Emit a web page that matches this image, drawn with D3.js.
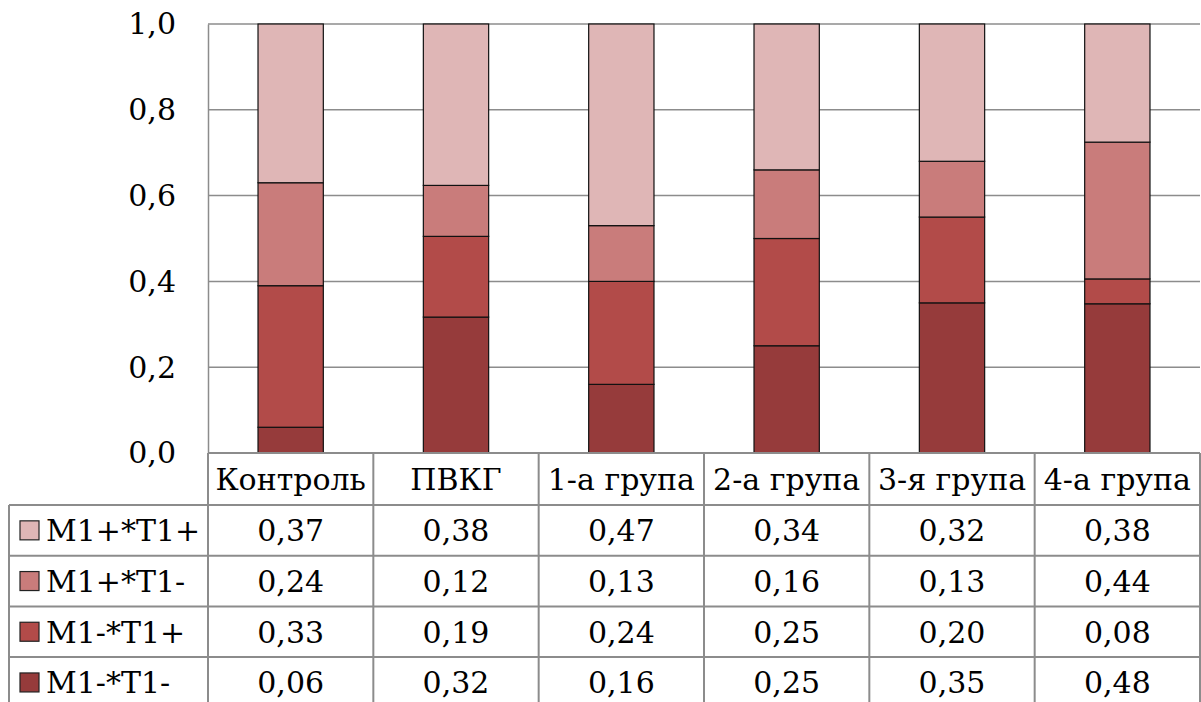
<!DOCTYPE html>
<html>
<head>
<meta charset="utf-8">
<script src="https://cdn.jsdelivr.net/npm/d3@7"></script>
<style>
  html, body { margin: 0; padding: 0; background: #fff; }
  svg { display: block; }
</style>
</head>
<body>
<svg id="chart" width="1201" height="702"></svg>
<script>
// Groups (columns of the data table)
const categories = ["Контроль", "ПВКГ", "1-а група", "2-а група", "3-я група", "4-а група"];

// Series, in table row order (top to bottom)
const seriesNames = ["M1+*T1+", "M1+*T1-", "M1-*T1+", "M1-*T1-"];

// Shares per group for each series
const m1pT1p = [0.37, 0.38, 0.47, 0.34, 0.32, 0.38];
const m1pT1m = [0.24, 0.12, 0.13, 0.16, 0.13, 0.44];
const m1mT1p = [0.33, 0.19, 0.24, 0.25, 0.20, 0.08];
const m1mT1m = [0.06, 0.32, 0.16, 0.25, 0.35, 0.48];

const yTicks = [0, 0.2, 0.4, 0.6, 0.8, 1.0];

const seriesValues = [m1pT1p, m1pT1m, m1mT1p, m1mT1m];
const colors = ["#dfb6b6", "#c97c7b", "#b24b49", "#963b3b"];

// Rows keyed by category for d3.stack
const rows = categories.map((c, i) => {
  const r = { category: c };
  seriesNames.forEach((s, k) => { r[s] = seriesValues[k][i]; });
  return r;
});

// Bottom of each stack is the last table row; each column is scaled to 100 %
const stackKeys = seriesNames.slice().reverse();
const stacked = d3.stack().keys(stackKeys).offset(d3.stackOffsetExpand)(rows);
const color = d3.scaleOrdinal().domain(seriesNames).range(colors);

const locale = d3.formatLocale({ decimal: ",", thousands: " ", grouping: [3], currency: ["", ""] });
const fmtAxis = locale.format(".1f");
const fmtCell = locale.format(".2f");

const fontStack = "'DejaVu Serif', serif";

const svg = d3.select("#chart");
svg.append("rect").attr("width", 1201).attr("height", 702).attr("fill", "#fff");

const plotLeft = 208, plotRight = 1200, plotTop = 24, plotBottom = 453;
const tableLeft = 9;
const headerBottom = 505;
const rowH = 50.7;
const fontSize = 30;

const xCol = d3.scaleBand().domain(categories).range([plotLeft, plotRight]).padding(0);
const xBar = d3.scaleBand().domain(categories).range([plotLeft, plotRight])
  .paddingInner(0.605).paddingOuter(0.3025);
const y = d3.scaleLinear().domain([0, 1]).range([plotBottom, plotTop]);

// Horizontal gridlines
svg.append("g").selectAll("line").data(yTicks.slice(1)).join("line")
  .attr("x1", plotLeft).attr("x2", plotRight)
  .attr("y1", d => y(d)).attr("y2", d => y(d))
  .attr("stroke", "#8c8c8c").attr("stroke-width", 1.5);

// Y axis with comma decimals
const yAxis = svg.append("g")
  .attr("transform", `translate(${plotLeft},0)`)
  .call(d3.axisLeft(y).tickValues(yTicks).tickFormat(fmtAxis).tickSize(0).tickPadding(32));
yAxis.attr("font-family", fontStack);
yAxis.select(".domain").attr("stroke", "#8c8c8c").attr("stroke-width", 1.5);
yAxis.selectAll("text")
  .attr("font-size", fontSize)
  .attr("fill", "#000")
  .attr("dy", "0.33em");

// Stacked bars
svg.append("g").selectAll("g").data(stacked).join("g")
  .attr("fill", d => color(d.key))
  .selectAll("rect").data(d => d).join("rect")
  .attr("x", d => xBar(d.data.category))
  .attr("width", xBar.bandwidth())
  .attr("y", d => y(d[1]))
  .attr("height", d => y(d[0]) - y(d[1]))
  .attr("stroke", "#111").attr("stroke-width", 1.2);

// Data table
const table = svg.append("g").attr("font-family", fontStack);
const gridColor = "#8c8c8c";
const tableBottom = 702;

// Horizontal table lines
table.append("line").attr("x1", plotLeft).attr("x2", plotRight)
  .attr("y1", plotBottom).attr("y2", plotBottom)
  .attr("stroke", gridColor).attr("stroke-width", 2);
const rowLines = seriesNames.map((s, i) => headerBottom + i * rowH);
table.selectAll(".hline").data(rowLines).join("line")
  .attr("x1", tableLeft).attr("x2", plotRight)
  .attr("y1", d => d).attr("y2", d => d)
  .attr("stroke", gridColor).attr("stroke-width", 2);

// Vertical table lines
table.append("line").attr("x1", tableLeft).attr("x2", tableLeft)
  .attr("y1", headerBottom).attr("y2", tableBottom)
  .attr("stroke", gridColor).attr("stroke-width", 2);
const colEdges = [plotLeft].concat(categories.map(c => xCol(c) + xCol.bandwidth()));
table.selectAll(".vline").data(colEdges).join("line")
  .attr("x1", d => d).attr("x2", d => d)
  .attr("y1", plotBottom).attr("y2", tableBottom)
  .attr("stroke", gridColor).attr("stroke-width", 2);

// Column headers
table.selectAll(".head").data(categories).join("text")
  .attr("x", d => xCol(d) + xCol.bandwidth() / 2)
  .attr("y", (plotBottom + headerBottom) / 2)
  .attr("dy", "0.36em")
  .attr("text-anchor", "middle")
  .attr("font-size", fontSize)
  .text(d => d);

// Rows: legend key, series name and values
seriesNames.forEach((s, i) => {
  const cy = headerBottom + i * rowH + rowH / 2;
  table.append("rect")
    .attr("x", 20).attr("y", cy - 9.5)
    .attr("width", 19).attr("height", 19)
    .attr("fill", color(s)).attr("stroke", "#222").attr("stroke-width", 1.2);
  table.append("text")
    .attr("x", 46).attr("y", cy).attr("dy", "0.36em")
    .attr("font-size", fontSize)
    .text(s);
  table.selectAll(null).data(seriesValues[i]).join("text")
    .attr("x", (d, j) => xCol(categories[j]) + xCol.bandwidth() / 2)
    .attr("y", cy).attr("dy", "0.36em")
    .attr("text-anchor", "middle")
    .attr("font-size", fontSize)
    .text(d => fmtCell(d));
});
</script>
</body>
</html>
